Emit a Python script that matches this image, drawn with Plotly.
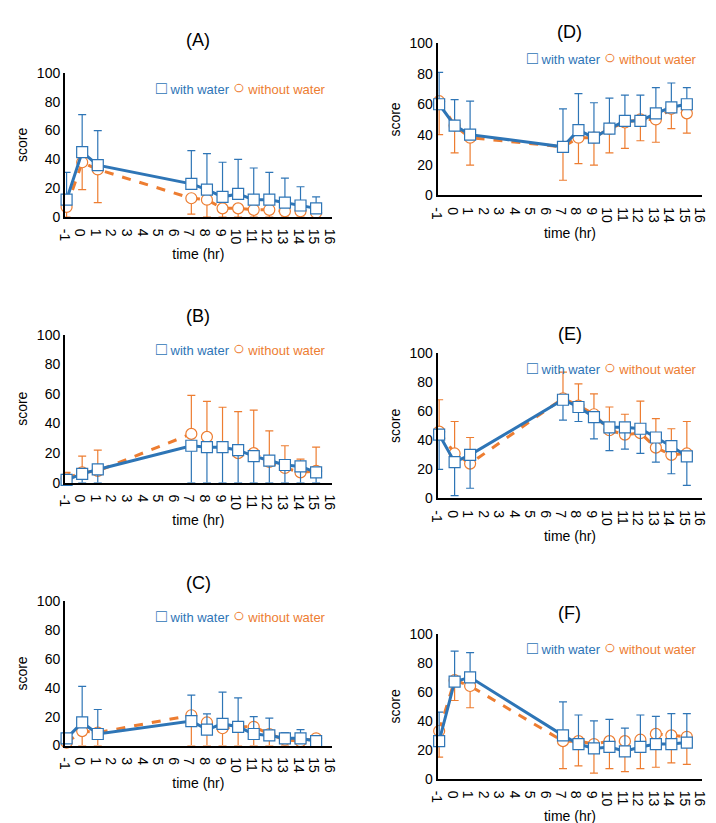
import plotly.graph_objects as go

W, H = 716, 823
hours = [-1, 0, 1, 7, 8, 9, 10, 11, 12, 13, 14, 15]
tick_vals = list(range(-1, 17))
tick_text = ["-1"] + [str(t) for t in range(0, 17)]

# error bars are drawn from each value to the given end value
a_with = [12, 45, 36, 23, 19, 14, 16, 12, 12, 10, 8, 6]
a_with_end = [31, 71, 60, 46, 44, 38, 40, 34, 31, 27, 21, 14]
a_wo = [7, 38, 33, 13, 12, 6, 6, 5, 5, 4, 4, 3]
a_wo_end = [0, 19, 10, 2, 0, 0, 0, 0, 0, 0, 0, 0]

b_with = [2, 6, 9, 25, 24, 24, 22, 18, 15, 12, 11, 7]
b_with_end = [0] * 12
b_wo = [3, 7, 8, 33, 31, 24, 20, 20, 14, 10, 7, 8]
b_wo_end = [7, 18, 22, 59, 55, 51, 48, 49, 35, 25, 16, 24]

c_with = [5, 16, 8, 17, 11, 15, 13, 8, 7, 5, 5, 3]
c_with_end = [7, 41, 25, 35, 22, 37, 33, 20, 19, 9, 11, 5]
c_wo = [2, 10, 9, 21, 16, 12, 13, 13, 8, 4, 3, 5]
c_wo_end = [0] * 12

d_with = [60, 46, 40, 32, 43, 38, 44, 49, 49, 54, 58, 60]
d_with_end = [81, 63, 62, 57, 67, 61, 64, 66, 66, 71, 74, 71]
d_wo = [62, 46, 38, 32, 38, 38, 44, 48, 50, 50, 57, 54]
d_wo_end = [40, 28, 20, 10, 21, 20, 28, 31, 36, 35, 44, 41]

e_with = [44, 25, 30, 68, 63, 56, 49, 49, 48, 42, 36, 29]
e_with_end = [20, 2, 7, 54, 53, 41, 33, 34, 31, 25, 17, 9]
e_wo = [46, 31, 24, 69, 64, 58, 47, 44, 45, 35, 30, 31]
e_wo_end = [68, 53, 42, 87, 79, 72, 63, 58, 67, 55, 48, 53]

f_with = [26, 67, 70, 30, 24, 21, 22, 19, 22, 24, 24, 25]
f_with_end = [46, 88, 87, 53, 44, 40, 41, 35, 44, 43, 45, 45]
f_wo = [33, 68, 64, 26, 26, 24, 26, 26, 27, 31, 30, 29]
f_wo_end = [15, 54, 49, 7, 9, 4, 7, 5, 7, 8, 11, 10]

BLUE = "#2E75B6"
ORANGE = "#ED7D31"

# pixel boxes: x0, x1, ytop, ybottom, title y
panels = [
    ("(A)", a_with, a_with_end, a_wo, a_wo_end, (50, 322, 58, 205, 12)),
    ("(B)", b_with, b_with_end, b_wo, b_wo_end, (50, 322, 325, 476, 294)),
    ("(C)", c_with, c_with_end, c_wo, c_wo_end, (50, 322, 597, 744, 566)),
    ("(D)", d_with, d_with_end, d_wo, d_wo_end, (430, 700, 28, 183, 4)),
    ("(E)", e_with, e_with_end, e_wo, e_wo_end, (430, 700, 344, 492, 312)),
    ("(F)", f_with, f_with_end, f_wo, f_wo_end, (430, 700, 630, 778, 597)),
]


def err(vals, ends):
    up = [max(e - v, 0) for v, e in zip(vals, ends)]
    dn = [max(v - e, 0) for v, e in zip(vals, ends)]
    return up, dn


fig = go.Figure()
layout = {}
annotations = []
for i, (title, w, we, wo, woe, box) in enumerate(panels):
    n = "" if i == 0 else str(i + 1)
    x0, x1, yt, yb, ty = box
    xa, ya = "x" + n, "y" + n
    for vals, ends, color, sym, dash in [
        (wo, woe, ORANGE, "circle", "dash"),
        (w, we, BLUE, "square", "solid"),
    ]:
        up, dn = err(vals, ends)
        fig.add_trace(go.Scatter(
            x=hours, y=vals, xaxis=xa, yaxis=ya, mode="lines+markers",
            line=dict(color=color, width=3, dash=dash),
            marker=dict(symbol=sym, size=11, color="white",
                        line=dict(color=color, width=1.2)),
            error_y=dict(type="data", symmetric=False, array=up, arrayminus=dn,
                         color=color, thickness=1.2, width=4),
            showlegend=False, cliponaxis=False))
    layout["xaxis" + n] = dict(
        domain=[x0 / W, x1 / W], anchor=ya, range=[-1.1, 16], tickmode="array",
        tickvals=tick_vals, ticktext=tick_text, showline=True, linecolor="black",
        linewidth=2, showgrid=False, zeroline=False, ticks="",
        tickfont=dict(size=14, color="black"),
        title=dict(text="time (hr)", font=dict(size=14, color="black"), standoff=6))
    layout["yaxis" + n] = dict(
        domain=[1 - yb / H, 1 - yt / H], anchor=xa, range=[0, 100], dtick=20,
        showline=True, linecolor="black", linewidth=2, showgrid=False, zeroline=False,
        ticks="", tickfont=dict(size=14, color="black"),
        title=dict(text="score", font=dict(size=14, color="black"), standoff=6))
    annotations.append(dict(text=title, x=(x0 + x1) / 2 / W, y=1 - ty / H,
                            xref="paper", yref="paper", xanchor="center", yanchor="top",
                            showarrow=False, font=dict(size=18, color="black")))
    annotations.append(dict(
        text=f"<span style='color:{BLUE}'><span style='font-size:18px'>□</span> with water</span> "
             f"<span style='color:{ORANGE}'><span style='font-size:20px'>○</span> without water</span>",
        x=x1 / W - 0.005, y=1 - (yt + 14) / H, xref="paper", yref="paper",
        xanchor="right", yanchor="middle", showarrow=False, font=dict(size=13)))

fig.update_layout(width=W, height=H, margin=dict(l=0, r=0, t=0, b=0),
                  plot_bgcolor="white", paper_bgcolor="white",
                  font=dict(family="Liberation Sans, Arial"),
                  annotations=annotations, **layout)
fig.write_html("out.html")
